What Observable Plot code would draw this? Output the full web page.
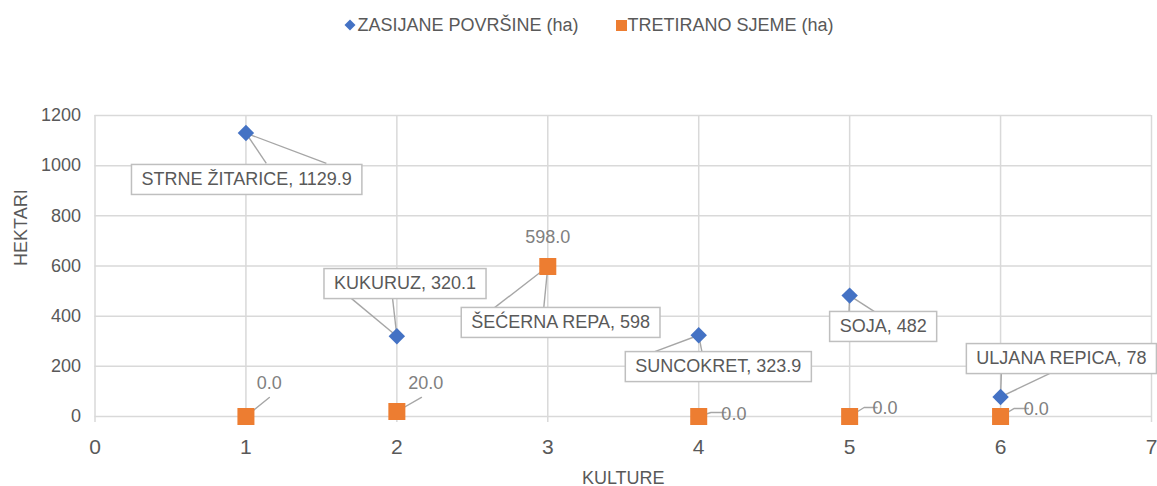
<!DOCTYPE html>
<html>
<head>
<meta charset="utf-8">
<script src="https://cdn.jsdelivr.net/npm/d3@7"></script>
<script src="https://cdn.jsdelivr.net/npm/@observablehq/plot@0.6"></script>
<style>
  body { margin: 0; background: white; font-family: "Liberation Sans", Arial, sans-serif; }
  #legend { height: 50px; display: flex; justify-content: center; align-items: center; gap: 37px; padding-left: 21px; color: #595959; font-size: 18px; }
  #legend .item { display: flex; align-items: center; gap: 1px; }
  #chart svg { display: block; }
</style>
</head>
<body>
<div id="legend"></div>
<div id="chart"></div>
<script>
// ---- data ----
const categories = ["STRNE ŽITARICE", "KUKURUZ", "ŠEĆERNA REPA", "SUNCOKRET", "SOJA", "ULJANA REPICA"];
const kulture = [1, 2, 3, 4, 5, 6];
const zasijane = [1129.9, 320.1, 598, 323.9, 482, 78];   // ZASIJANE POVRŠINE (ha)
const tretirano = [0, 20, 598, 0, 0, 0];                 // TRETIRANO SJEME (ha)
const seriesNames = ["ZASIJANE POVRŠINE (ha)", "TRETIRANO SJEME (ha)"];
const xTicks = [0, 1, 2, 3, 4, 5, 6, 7];
const yTicks = [0, 200, 400, 600, 800, 1000, 1200];
const xTitle = "KULTURE";
const yTitle = "HEKTARI";

// ---- annotation placement (data units) ----
const zLabelX = [1.005, 2.054, 3.085, 4.130, 5.222, 6.403];
const zLabelY = [945, 530, 375, 199, 359, 231];
const zCalloutX1 = [1.135, 1.692, 2.641, 3.709, 4.996, 6.005];
const zCalloutX2 = [1.533, 1.971, 2.973, 4.021, 5.162, 6.324];
const zCalloutY = [1009, 474, 431, 259, 419, 171];
const tLabelX = [1.155, 2.191, 3.0, 4.233, 5.235, 6.237];
const tLabelY = [132, 132, 714, 8, 32, 28];
const tLabelAnchor = ["middle", "middle", "middle", "start", "start", "start"];
const tLeaderBendX = [1.155, 2.163, null, 4.081, 5.096, 6.091];
const tLeaderBendY = [76, 76, null, 16, 36, 32];
const tLeaderEndX = [null, null, null, 4.180, 5.182, 6.184];

const colors = ["#4472c4", "#ed7d31"];

// ---- build tables ----
const zData = kulture.map((k, i) => ({
  x: k, y: zasijane[i], label: `${categories[i]}, ${zasijane[i]}`,
  lx: zLabelX[i], ly: zLabelY[i], cx1: zCalloutX1[i], cx2: zCalloutX2[i], cy: zCalloutY[i]
}));
const tData = kulture.map((k, i) => ({
  x: k, y: tretirano[i], label: tretirano[i].toFixed(1), lx: tLabelX[i], ly: tLabelY[i], anchor: tLabelAnchor[i]
}));
const tLeaders = [];
kulture.forEach((k, i) => {
  if (tLeaderBendX[i] == null) return;
  tLeaders.push({id: i, x: k, y: tretirano[i]});
  tLeaders.push({id: i, x: tLeaderBendX[i], y: tLeaderBendY[i]});
  if (tLeaderEndX[i] != null) tLeaders.push({id: i, x: tLeaderEndX[i], y: tLeaderBendY[i]});
});

// ---- legend ----
const legend = document.getElementById("legend");
seriesNames.forEach((name, i) => {
  const item = document.createElement("div");
  item.className = "item";
  const glyph = i === 0
    ? `<svg width="12" height="12"><path d="M6,0.5L11.5,6L6,11.5L0.5,6Z" fill="${colors[0]}"/></svg>`
    : `<svg width="11" height="11"><rect width="11" height="11" fill="${colors[1]}"/></svg>`;
  item.innerHTML = glyph + `<span>${name}</span>`;
  legend.appendChild(item);
});

// ---- chart ----
const gridColor = "#d9d9d9";
const chart = Plot.plot({
  width: 1157,
  height: 436,
  marginTop: 65,
  marginBottom: 70,
  marginLeft: 94.5,
  marginRight: 6,
  x: {domain: [0, 7]},
  y: {domain: [0, 1200]},
  style: {fontFamily: '"Liberation Sans", Arial, sans-serif', fontSize: "18px", color: "#595959", background: "white"},
  marks: [
    Plot.gridY(yTicks, {stroke: gridColor, strokeOpacity: 1, strokeWidth: 1.5}),
    Plot.gridX(xTicks, {stroke: gridColor, strokeOpacity: 1, strokeWidth: 1.5}),
    Plot.axisY(yTicks, {tickSize: 0, tickPadding: 14, label: null, fontSize: 18, fill: "#595959", tickFormat: d => String(d)}),
    Plot.axisX(xTicks, {tickSize: 6, tickPadding: 17, label: null, fontSize: 21, stroke: gridColor, strokeWidth: 1.5, fill: "#595959", tickFormat: d => String(d)}),
    Plot.text([xTitle], {frameAnchor: "bottom", dy: 67, text: d => d, fontSize: 18, fill: "#595959"}),
    Plot.text([yTitle], {frameAnchor: "left", dx: -74, rotate: -90, text: d => d, fontSize: 18, fill: "#595959"}),
    // callout wedges for blue labels
    Plot.link(zData, {x1: "x", y1: "y", x2: "cx1", y2: "cy", stroke: "#a6a6a6", strokeWidth: 1.4}),
    Plot.link(zData, {x1: "x", y1: "y", x2: "cx2", y2: "cy", stroke: "#a6a6a6", strokeWidth: 1.4}),
    // leaders for orange labels
    Plot.line(tLeaders, {x: "x", y: "y", z: "id", stroke: "#a6a6a6", strokeWidth: 1.4}),
    // markers
    Plot.dot(zData, {x: "x", y: "y", symbol: "diamond2", r: 7.4, fill: colors[0], stroke: "none"}),
    Plot.dot(tData, {x: "x", y: "y", symbol: "square", r: 9.6, fill: colors[1], stroke: "none"}),
    // labels
    Plot.text(zData, {x: "lx", y: "ly", text: "label", fontSize: 18, fill: "#595959", className: "zlabel"}),
    Plot.text(tData, {x: "lx", y: "ly", text: "label", textAnchor: d => d.anchor, fontSize: 18, fill: "#808080"})
  ]
});
document.getElementById("chart").appendChild(chart);

// draw callout boxes behind the blue-series labels
const ns = "http://www.w3.org/2000/svg";
chart.querySelectorAll("g.zlabel text").forEach(t => {
  const bb = t.getBBox();
  const r = document.createElementNS(ns, "rect");
  r.setAttribute("x", bb.x - 10);
  r.setAttribute("y", -15);
  r.setAttribute("width", bb.width + 20);
  r.setAttribute("height", 30);
  r.setAttribute("fill", "white");
  r.setAttribute("stroke", "#bfbfbf");
  r.setAttribute("stroke-width", 1.5);
  const tr = t.getAttribute("transform");
  if (tr) r.setAttribute("transform", tr);
  else {
    r.setAttribute("x", bb.x - 10);
    r.setAttribute("y", bb.y + bb.height / 2 - 15);
  }
  t.parentNode.insertBefore(r, t);
});
</script>
</body>
</html>
